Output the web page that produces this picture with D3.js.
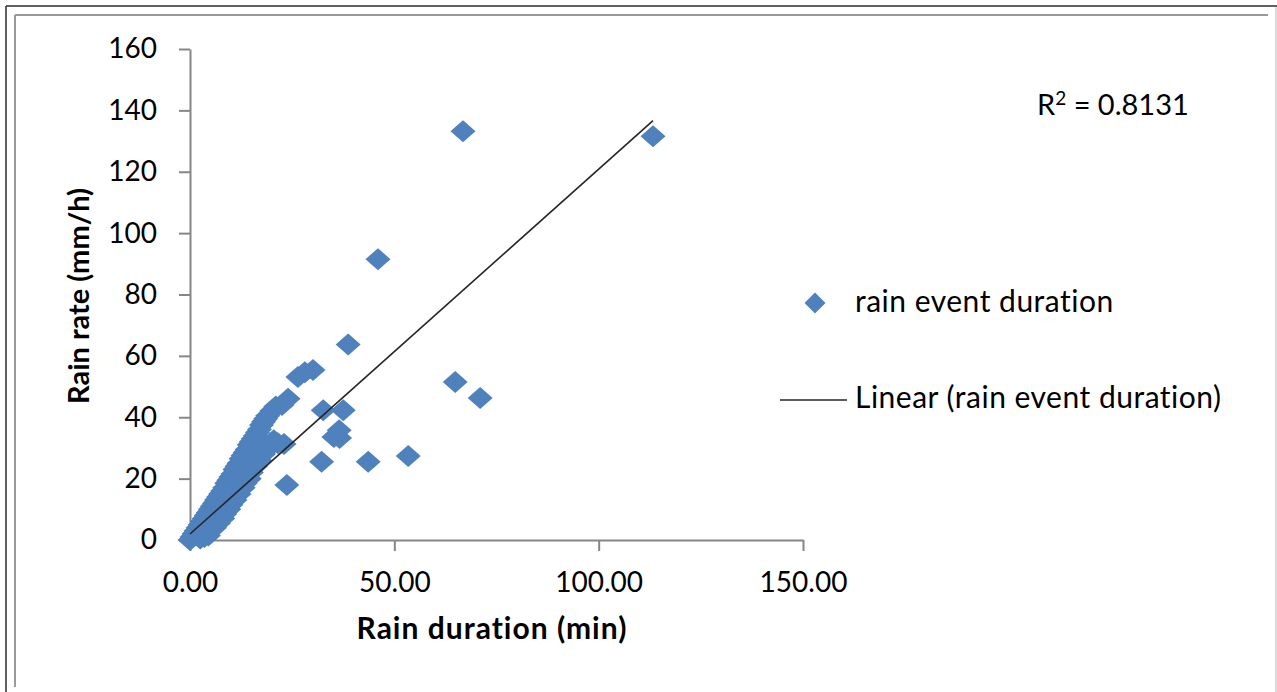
<!DOCTYPE html>
<html lang="en">
<head>
<meta charset="UTF-8">
<title>Rain rate vs rain duration</title>
<script src="https://d3js.org/d3.v7.min.js"></script>
<style>
  html, body { margin: 0; padding: 0; background: #fff; overflow: hidden; }
  svg { display: block; font-family: Lato, 'Open Sans', sans-serif; }
  .axis .tick text { font-size: 28px; fill: #000; font-family: Lato, 'Open Sans', sans-serif; }
  .axis path, .axis line { stroke: #868686; stroke-width: 2; }
  .title { font-size: 30px; font-weight: bold; fill: #000; letter-spacing: 1px; }
  .ytitle { font-size: 29px; letter-spacing: 0; }
  .legend text { font-size: 30px; fill: #000; letter-spacing: 0.5px; }
  .rsq { font-size: 29px; fill: #000; }
</style>
</head>
<body>
<svg width="1277" height="692"></svg>
<script>
// rain duration (min) and rain rate (mm/h)
const duration = [
  66.8, 113.3, 46.0, 38.7, 64.9, 71.0, 53.4, 43.6, 32.2, 23.7,
  32.6, 37.5, 36.5, 35.2, 36.6, 26.4, 28.1, 30.1, 22.5, 24.0,
  23.0, 21.5,
  // dense band near the origin
  0.0, 0.5, 1.0, 1.5, 2.0, 2.5, 3.0, 3.5, 4.0, 4.5,
  5.0, 5.5, 6.0, 6.5, 7.0, 7.5, 8.0, 8.5, 9.0, 9.5,
  10.0, 10.5, 11.0, 11.5, 12.0, 12.5, 13.0, 13.5, 14.0, 14.5,
  15.0, 15.5, 16.0, 16.5, 17.0, 17.5, 18.0, 18.5, 19.0, 20.0,
  21.0, 2.5, 3.5, 4.0, 5.0, 6.0, 7.0, 8.0, 8.5, 9.5,
  10.0, 11.0, 12.0, 13.0, 13.5, 14.5, 15.0, 16.0, 17.0, 18.0,
  19.0, 20.0, 20.5, 11.5, 12.5, 14.0, 15.5, 16.5, 4.5
];
const rate = [
  133.2, 131.6, 91.5, 63.7, 51.5, 46.3, 27.4, 25.5, 25.5, 17.9,
  42.3, 42.3, 35.8, 33.6, 33.2, 53.1, 54.7, 55.4, 44.0, 46.0,
  31.3, 31.5,
  0.0, 1.0, 2.0, 3.0, 4.0, 5.0, 6.0, 7.0, 8.0, 9.0,
  10.0, 11.0, 12.0, 13.0, 14.0, 15.0, 16.0, 17.0, 18.5, 19.5,
  20.5, 21.5, 23.0, 24.0, 25.0, 26.5, 27.5, 28.5, 29.5, 31.0,
  32.0, 33.0, 34.0, 35.0, 36.0, 37.5, 38.5, 39.5, 40.5, 42.0,
  43.5, 0.5, 1.0, 2.0, 3.0, 4.0, 5.5, 7.0, 8.5, 10.0,
  11.5, 13.0, 15.0, 17.0, 18.5, 20.0, 22.0, 24.0, 26.0, 28.0,
  30.0, 31.0, 32.5, 17.5, 19.0, 23.0, 26.0, 28.0, 1.5
];
const xTicks = [0, 50, 100, 150];
const yTicks = [0, 20, 40, 60, 80, 100, 120, 140, 160];
// linear trendline
const trendIntercept = 1.95;
const trendSlope = 1.189;
const rSquared = "0.8131";
const seriesName = "rain event duration";

const svg = d3.select("svg");

// frame
svg.append("line").attr("x1", 6).attr("y1", 6).attr("x2", 1277).attr("y2", 6)
  .attr("stroke", "#2b2b2b").attr("stroke-width", 1.5);
svg.append("line").attr("x1", 6).attr("y1", 6).attr("x2", 6).attr("y2", 692)
  .attr("stroke", "#2b2b2b").attr("stroke-width", 1.5);
svg.append("line").attr("x1", 15).attr("y1", 15).attr("x2", 1268).attr("y2", 15)
  .attr("stroke", "#9a9a9a").attr("stroke-width", 2);
svg.append("line").attr("x1", 15).attr("y1", 15).attr("x2", 15).attr("y2", 687)
  .attr("stroke", "#9a9a9a").attr("stroke-width", 2);
svg.append("line").attr("x1", 1276).attr("y1", 7).attr("x2", 1276).attr("y2", 692)
  .attr("stroke", "#d0d0d0").attr("stroke-width", 1.5);

const x = d3.scaleLinear().domain([0, 150]).range([190, 803]);
const y = d3.scaleLinear().domain([0, 160]).range([540, 49]);

svg.append("g")
  .attr("class", "axis")
  .attr("transform", "translate(0,540)")
  .call(d3.axisBottom(x).tickValues(xTicks).tickFormat(d3.format(".2f"))
    .tickSize(11).tickSizeOuter(0).tickPadding(21));

svg.append("g")
  .attr("class", "axis")
  .attr("transform", "translate(190,0)")
  .call(d3.axisLeft(y).tickValues(yTicks).tickFormat(d3.format("d"))
    .tickSize(11).tickSizeOuter(0).tickPadding(22));

// diamond markers
const diamond = (w, h) => `M0,${-h}L${w},0L0,${h}L${-w},0Z`;
svg.append("g").selectAll("path")
  .data(d3.range(duration.length).reverse())
  .join("path")
  .attr("d", diamond(12.5, 11))
  .attr("transform", i => `translate(${x(duration[i])},${y(rate[i])})`)
  .attr("fill", "#4F81BD");

// trendline over the data's x range, drawn on top of the markers
const xr = d3.extent(duration);
svg.append("line")
  .attr("x1", x(xr[0])).attr("y1", y(trendIntercept + trendSlope * xr[0]))
  .attr("x2", x(xr[1])).attr("y2", y(trendIntercept + trendSlope * xr[1]))
  .attr("stroke", "#262626").attr("stroke-width", 1.6);

// axis titles
svg.append("text").attr("class", "title")
  .attr("x", 492).attr("y", 639).attr("text-anchor", "middle")
  .text("Rain duration (min)");
svg.append("text").attr("class", "title ytitle")
  .attr("transform", "translate(89,296) rotate(-90)")
  .attr("text-anchor", "middle")
  .text("Rain rate (mm/h)");

// R squared
const rs = svg.append("text").attr("class", "rsq").attr("x", 1037).attr("y", 115);
rs.append("tspan").text("R");
rs.append("tspan").attr("dy", -10).attr("font-size", 19).text("2");
rs.append("tspan").attr("dy", 10).text(" = " + rSquared);

// legend
const legend = svg.append("g").attr("class", "legend");
legend.append("path").attr("d", diamond(10.5, 10.5))
  .attr("transform", "translate(815,303)").attr("fill", "#4F81BD");
legend.append("text").attr("x", 855).attr("y", 312).text(seriesName);
legend.append("line").attr("x1", 780).attr("x2", 847).attr("y1", 400).attr("y2", 400)
  .attr("stroke", "#262626").attr("stroke-width", 1.6);
legend.append("text").attr("x", 855).attr("y", 408).text("Linear (" + seriesName + ")");
</script>
</body>
</html>
